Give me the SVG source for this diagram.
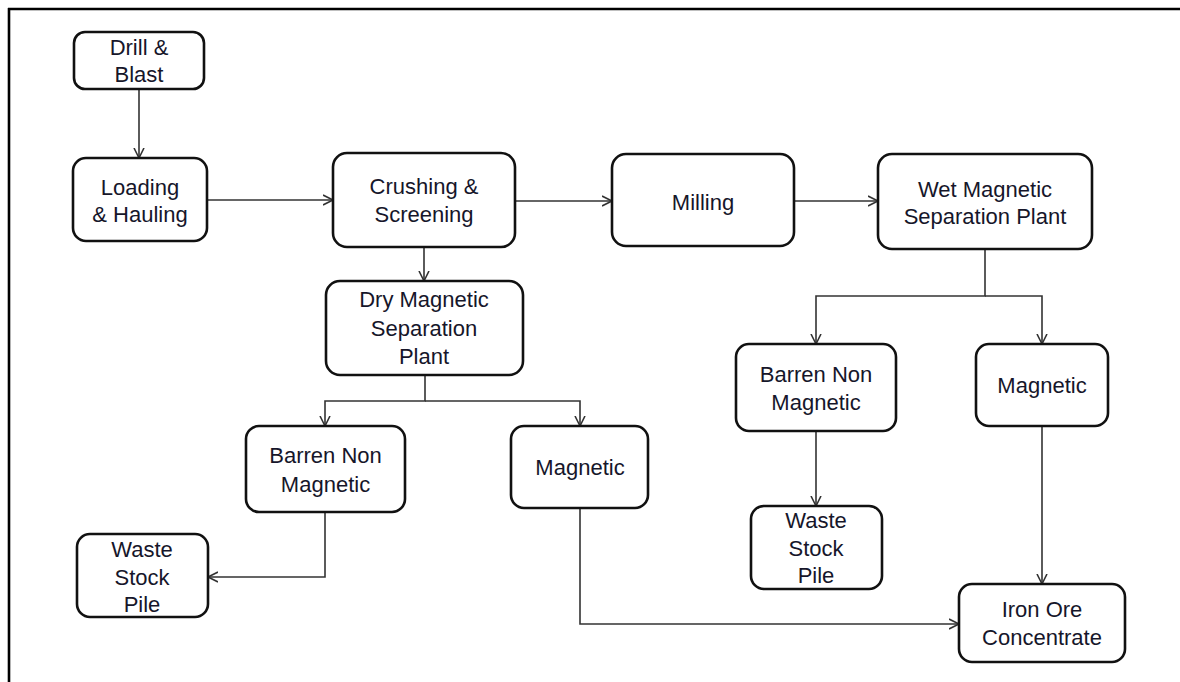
<svg xmlns="http://www.w3.org/2000/svg" width="1180" height="682" viewBox="0 0 1180 682">
<defs>
<marker id="arr" markerUnits="userSpaceOnUse" markerWidth="12" markerHeight="12" refX="10" refY="5" orient="auto" viewBox="0 0 12 10">
<path d="M0,0 L10,5 L0,10" fill="none" stroke="#333" stroke-width="1.6"/>
</marker>
<style>
.box{fill:#fff;stroke:#111;stroke-width:2.6}
.t{font-family:"Liberation Sans",Arial,sans-serif;font-size:22px;fill:#16162a;text-anchor:middle}
.c{fill:none;stroke:#333;stroke-width:1.6}
</style>
</defs>
<rect width="1180" height="682" fill="#fff"/>
<path d="M8,9 H1180 M9,8 V682" stroke="#000" stroke-width="2.6" fill="none"/>
<g id="connectors">
<path class="c" d="M139,89 V158" marker-end="url(#arr)"/>
<path class="c" d="M207,200 H333" marker-end="url(#arr)"/>
<path class="c" d="M515,201 H612" marker-end="url(#arr)"/>
<path class="c" d="M794,201 H878" marker-end="url(#arr)"/>
<path class="c" d="M424,247 V281" marker-end="url(#arr)"/>
<path class="c" d="M425,375 V401 H325 V426" marker-end="url(#arr)"/>
<path class="c" d="M425,401 H580 V426" marker-end="url(#arr)"/>
<path class="c" d="M325,512 V577 H208" marker-end="url(#arr)"/>
<path class="c" d="M580,508 V624 H959" marker-end="url(#arr)"/>
<path class="c" d="M985,249 V296 H816 V344" marker-end="url(#arr)"/>
<path class="c" d="M985,296 H1042 V344" marker-end="url(#arr)"/>
<path class="c" d="M816,431 V506" marker-end="url(#arr)"/>
<path class="c" d="M1042,426 V584" marker-end="url(#arr)"/>
</g>
<g id="drill">
<rect class="box" x="74" y="32" width="130" height="57" rx="11"/>
<text class="t" x="139" y="55">Drill &amp;</text>
<text class="t" x="139" y="82">Blast</text>
</g>
<g id="loading">
<rect class="box" x="73" y="158" width="134" height="83" rx="13"/>
<text class="t" x="140" y="195">Loading</text>
<text class="t" x="140" y="222">&amp; Hauling</text>
</g>
<g id="crushing">
<rect class="box" x="333" y="153" width="182" height="94" rx="14"/>
<text class="t" x="424" y="194">Crushing &amp;</text>
<text class="t" x="424" y="222">Screening</text>
</g>
<g id="milling">
<rect class="box" x="612" y="154" width="182" height="92" rx="14"/>
<text class="t" x="703" y="210">Milling</text>
</g>
<g id="wet">
<rect class="box" x="878" y="154" width="214" height="95" rx="14"/>
<text class="t" x="985" y="197">Wet Magnetic</text>
<text class="t" x="985" y="224">Separation Plant</text>
</g>
<g id="dry">
<rect class="box" x="326" y="281" width="197" height="94" rx="14"/>
<text class="t" x="424" y="307">Dry Magnetic</text>
<text class="t" x="424" y="336">Separation</text>
<text class="t" x="424" y="364">Plant</text>
</g>
<g id="dry-barren">
<rect class="box" x="246" y="426" width="159" height="86" rx="13"/>
<text class="t" x="325.5" y="463">Barren Non</text>
<text class="t" x="325.5" y="492">Magnetic</text>
</g>
<g id="dry-magnetic">
<rect class="box" x="511" y="426" width="137" height="82" rx="13"/>
<text class="t" x="580" y="475">Magnetic</text>
</g>
<g id="waste-left">
<rect class="box" x="77" y="534" width="131" height="83" rx="13"/>
<text class="t" x="142" y="557">Waste</text>
<text class="t" x="142" y="585">Stock</text>
<text class="t" x="142" y="612">Pile</text>
</g>
<g id="wet-barren">
<rect class="box" x="736" y="344" width="160" height="87" rx="13"/>
<text class="t" x="816" y="382">Barren Non</text>
<text class="t" x="816" y="410">Magnetic</text>
</g>
<g id="wet-magnetic">
<rect class="box" x="976" y="344" width="132" height="82" rx="13"/>
<text class="t" x="1042" y="393">Magnetic</text>
</g>
<g id="waste-right">
<rect class="box" x="751" y="506" width="131" height="83" rx="13"/>
<text class="t" x="816" y="528">Waste</text>
<text class="t" x="816" y="556">Stock</text>
<text class="t" x="816" y="583">Pile</text>
</g>
<g id="iron-ore">
<rect class="box" x="959" y="584" width="166" height="78" rx="13"/>
<text class="t" x="1042" y="617">Iron Ore</text>
<text class="t" x="1042" y="645">Concentrate</text>
</g>
</svg>
